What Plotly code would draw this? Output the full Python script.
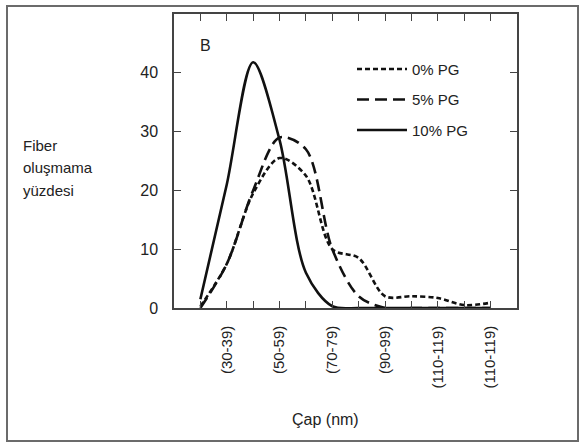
import plotly.graph_objects as go

# ---- data ----
x_pos = list(range(12))
tick_labels = ["", "(30-39)", "", "(50-59)", "", "(70-79)", "", "(90-99)", "", "(110-119)", "", "(110-119)"]
pg0 = [0.3, 7.5, 19.5, 25.5, 22.5, 10.0, 8.5, 2.0, 2.0, 1.7, 0.5, 0.9]
pg5 = [0.0, 7.5, 20.0, 29.0, 27.0, 10.0, 2.0, 0.0, 0.0, 0.0, 0.0, 0.0]
pg10 = [1.5, 21.0, 41.8, 28.6, 6.0, 0.3, 0.0, 0.0, 0.0, 0.0, 0.0, 0.0]
y_ticks = [0, 10, 20, 30, 40]
series_names = ["0% PG", "5% PG", "10% PG"]
y_title_lines = ["Fiber", "oluşmama", "yüzdesi"]

W, H = 584, 445
L, R, T, B = 174, 517, 12, 308
pw, ph = R - L, B - T

def px(x):
    return (x - L) / pw

def py(y):
    return (B - y) / ph

FONT = "Liberation Sans, Arial, sans-serif"
TXT = "#222222"

fig = go.Figure()
styles = ["5px,3px", "12px,6px", "solid"]
for i, (name, vals) in enumerate(zip(series_names, [pg0, pg5, pg10])):
    fig.add_trace(go.Scatter(
        x=x_pos, y=vals, name=name, mode="lines",
        line=dict(color="#111111", width=2.6, dash=styles[i], shape="spline", smoothing=0.9),
        legendgroup=f"g{i}",
    ))

axis_common = dict(
    showline=True, linecolor="#444444", linewidth=1.5, mirror="ticks",
    ticks="inside", ticklen=7, tickwidth=1.2, tickcolor="#444444",
    showgrid=False, zeroline=False,
    tickfont=dict(family=FONT, size=15, color=TXT),
)

fig.update_xaxes(
    range=[-1, 12], tickmode="array", tickvals=x_pos, ticktext=tick_labels,
    tickangle=-90, ticklabelstandoff=10, **axis_common,
)
fig.update_yaxes(
    range=[0, 50], tickmode="array", tickvals=y_ticks,
    ticklabelstandoff=11, **{**axis_common, "tickfont": dict(family=FONT, size=16, color=TXT)},
)

annotations = [
    dict(text="B", x=0.2, y=44.7, xref="x", yref="y", showarrow=False,
         font=dict(family=FONT, size=16, color=TXT), xanchor="center", yanchor="middle"),
    dict(text="Çap (nm)", x=px(325), y=py(420), xref="paper", yref="paper",
         showarrow=False, xanchor="center", yanchor="middle",
         font=dict(family=FONT, size=16, color=TXT)),
]
for k, line_txt in enumerate(y_title_lines):
    annotations.append(dict(
        text=line_txt, x=px(21), y=py(144 + 23 * k), xref="paper", yref="paper",
        showarrow=False, xanchor="left", yanchor="middle",
        font=dict(family=FONT, size=15, color=TXT)))

fig.update_layout(
    width=W, height=H,
    margin=dict(l=L, r=W - R, t=T, b=H - B, pad=0),
    paper_bgcolor="white", plot_bgcolor="white",
    font=dict(family=FONT, size=15, color=TXT),
    showlegend=True,
    legend=dict(
        x=px(352), y=py(51), xanchor="left", yanchor="top",
        bgcolor="rgba(0,0,0,0)", borderwidth=0,
        font=dict(family=FONT, size=15, color=TXT),
        tracegroupgap=8, itemwidth=50,
    ),
    annotations=annotations,
    shapes=[
        dict(type="rect", xref="paper", yref="paper",
             x0=px(7), x1=px(578), y0=py(442), y1=py(4),
             line=dict(color="#6b6b6b", width=2), fillcolor="rgba(0,0,0,0)", layer="below"),
    ],
)

fig.write_html("out.html", config={"displayModeBar": False},
               post_script="document.body.style.margin='0px';")
